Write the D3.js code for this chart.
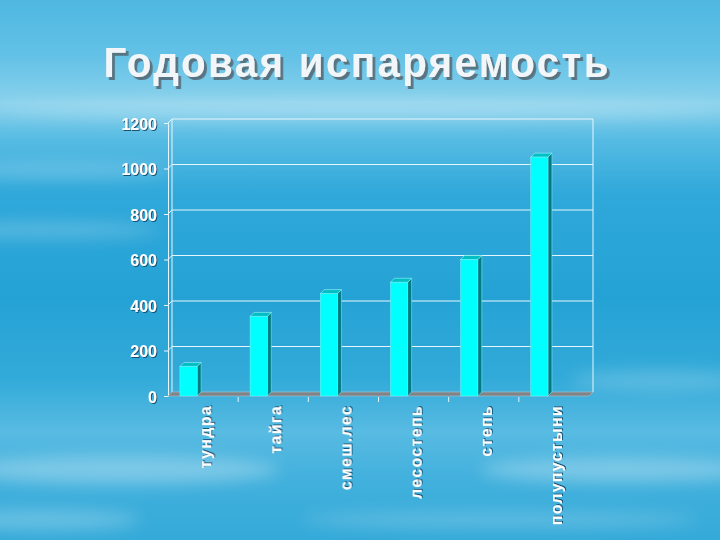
<!DOCTYPE html>
<html><head><meta charset="utf-8">
<script src="https://cdn.jsdelivr.net/npm/d3@7"></script>
<style>html,body{margin:0;padding:0;overflow:hidden;background:#2aa6d8}</style>
</head><body>
<script>
const title = "Годовая испаряемость";
const categories = ["тундра", "тайга", "смеш.лес", "лесостепь", "степь", "полупустыни"];
const values = [130, 350, 450, 500, 600, 1050];
const yTicks = [0, 200, 400, 600, 800, 1000, 1200];

const W = 720, H = 540;
const svg = d3.select("body").append("svg").attr("width", W).attr("height", H)
  .attr("font-family", "'Liberation Sans', Arial, sans-serif");
const defs = svg.append("defs");

// background
const bg = defs.append("linearGradient").attr("id", "bg").attr("x1", 0).attr("y1", 0).attr("x2", 0).attr("y2", 1);
[[0, "#4fb8e1"], [0.1, "#62c1e6"], [0.19, "#88d1ec"], [0.26, "#55bbe3"], [0.36, "#2fa8da"], [0.55, "#25a2d5"],
 [0.7, "#32aad9"], [0.8, "#58bbe2"], [0.88, "#43b1dd"], [1, "#34aad9"]]
  .forEach(([o, c]) => bg.append("stop").attr("offset", o).attr("stop-color", c));
svg.append("rect").attr("width", W).attr("height", H).attr("fill", "url(#bg)");

const blur = defs.append("filter").attr("id", "blur").attr("x", "-50%").attr("y", "-50%").attr("width", "200%").attr("height", "200%");
blur.append("feGaussianBlur").attr("stdDeviation", 8);
const clouds = [[60, 170, 110, 8, 0.2], [40, 230, 120, 8, 0.22], [120, 470, 160, 14, 0.3], [620, 470, 140, 12, 0.3],
  [660, 380, 90, 10, 0.2], [360, 110, 380, 10, 0.25], [40, 520, 100, 10, 0.25], [500, 520, 200, 8, 0.2]];
svg.append("g").attr("filter", "url(#blur)").selectAll("ellipse").data(clouds).join("ellipse")
  .attr("cx", d => d[0]).attr("cy", d => d[1]).attr("rx", d => d[2]).attr("ry", d => d[3])
  .attr("fill", "#ffffff").attr("opacity", d => d[4]);

// shadow filters
const sh = defs.append("filter").attr("id", "tshadow").attr("x", "-10%").attr("y", "-30%").attr("width", "120%").attr("height", "160%");
sh.append("feDropShadow").attr("dx", 3).attr("dy", 3).attr("stdDeviation", 0.6).attr("flood-color", "#56707e").attr("flood-opacity", 0.95);
const sh2 = defs.append("filter").attr("id", "lshadow").attr("x", "-30%").attr("y", "-30%").attr("width", "160%").attr("height", "160%");
sh2.append("feDropShadow").attr("dx", 1).attr("dy", 1).attr("stdDeviation", 0.3).attr("flood-color", "#0d4a6a").attr("flood-opacity", 0.9);

// title (slightly condensed)
const sx = 0.94;
svg.append("g").attr("transform", `translate(356,77) scale(${sx},1)`)
  .append("text").attr("x", 0).attr("y", 0).attr("text-anchor", "middle")
  .attr("font-size", 43).attr("font-weight", "bold").attr("fill", "#f2f6f8")
  .attr("textLength", 505 / sx).attr("lengthAdjust", "spacing")
  .attr("filter", "url(#tshadow)").text(title);

// scales
const x = d3.scaleBand().domain(categories).range([168, 589]).paddingInner(0).paddingOuter(0);
const y = d3.scaleLinear().domain([0, 1200]).range([396, 123]);
const dx = 4, dy = -4;
const x0 = x.range()[0], x1 = x.range()[1];

const grid = svg.append("g").attr("stroke", "#e6f6fb").attr("stroke-width", 1).attr("fill", "none");
yTicks.forEach(t => {
  if (t > 0) grid.append("path").attr("d", `M${x0},${y(t)}L${x0 + dx},${y(t) + dy}H${x1 + dx}`);
});
grid.append("line").attr("x1", x0 + dx).attr("x2", x0 + dx).attr("y1", y(1200) + dy).attr("y2", y(0) + dy);
grid.append("line").attr("x1", x1 + dx).attr("x2", x1 + dx).attr("y1", y(1200) + dy).attr("y2", y(0) + dy);

// front y axis
const yAxis = svg.append("g").attr("transform", `translate(${x0},0)`)
  .call(d3.axisLeft(y).tickValues(yTicks).tickSize(4).tickPadding(7).tickFormat(d3.format("d")));
yAxis.select(".domain").attr("stroke", "#e6f6fb");
yAxis.selectAll(".tick line").attr("stroke", "#e6f6fb");
yAxis.selectAll(".tick text").attr("font-size", 16).attr("font-weight", "bold").attr("fill", "#ffffff")
  .attr("font-family", "'Liberation Sans', Arial, sans-serif")
  .attr("filter", "url(#lshadow)").attr("dy", "0.38em");

// floor
svg.append("path")
  .attr("d", `M${x0},${y(0)}L${x1},${y(0)}L${x1 + dx},${y(0) + dy}L${x0 + dx},${y(0) + dy}Z`)
  .attr("fill", "#7e8488").attr("stroke", "#b9c4ca").attr("stroke-width", 0.6);

// category ticks
svg.append("g").selectAll("line").data(categories.slice(1)).join("line")
  .attr("x1", d => x(d)).attr("x2", d => x(d)).attr("y1", y(0) + 1).attr("y2", y(0) + 6)
  .attr("stroke", "#e6f6fb").attr("stroke-width", 1);

// bars
const bw = x.bandwidth() * 0.245, boff = x.bandwidth() * 0.17;
const bars = svg.append("g").selectAll("g").data(categories.map((c, i) => ({ c, v: values[i] }))).join("g");
bars.append("path").attr("d", d => {
  const bx = x(d.c) + boff + bw, top = y(d.v), bot = y(0);
  return `M${bx},${bot}L${bx},${top}L${bx + dx},${top + dy}L${bx + dx},${bot + dy}Z`;
}).attr("fill", "#007c84").attr("stroke", "#7fe6ea").attr("stroke-width", 0.6);
bars.append("path").attr("d", d => {
  const bx = x(d.c) + boff, top = y(d.v);
  return `M${bx},${top}L${bx + bw},${top}L${bx + bw + dx},${top + dy}L${bx + dx},${top + dy}Z`;
}).attr("fill", "#00bfc4").attr("stroke", "#9ff6f8").attr("stroke-width", 0.6);
bars.append("rect").attr("x", d => x(d.c) + boff).attr("y", d => y(d.v))
  .attr("width", bw).attr("height", d => y(0) - y(d.v))
  .attr("fill", "#00ffff").attr("stroke", "#7ff0f4").attr("stroke-width", 0.5);

// category labels
svg.append("g").selectAll("text").data(categories).join("text")
  .attr("transform", d => `translate(${x(d) + x.bandwidth() * 0.53},405) rotate(-90)`)
  .attr("text-anchor", "end").attr("dy", "0.36em")
  .attr("font-size", 16).attr("font-weight", "bold").attr("fill", "#ffffff")
  .attr("letter-spacing", 1.3)
  .attr("filter", "url(#lshadow)")
  .text(d => d);
</script>
</body></html>
